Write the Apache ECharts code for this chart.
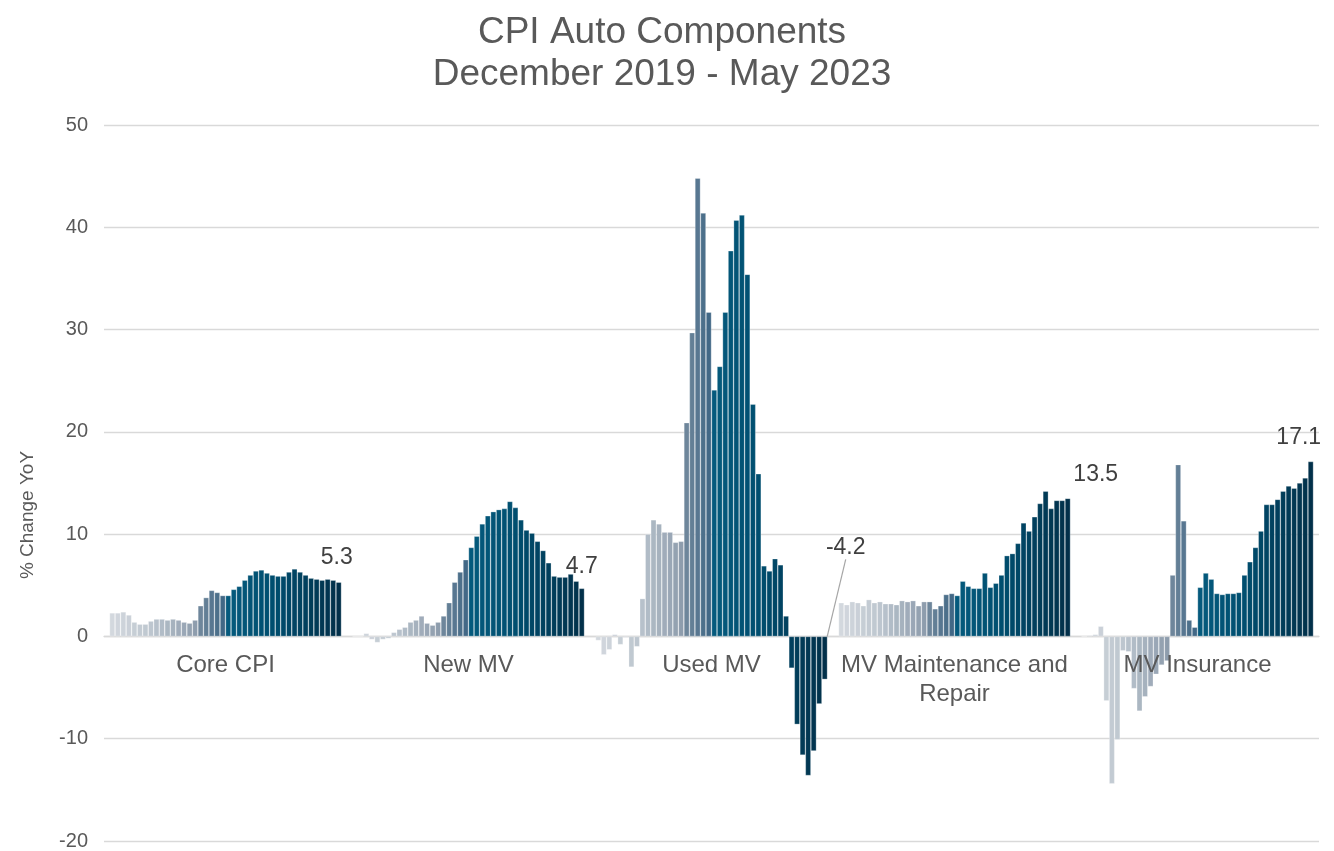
<!DOCTYPE html>
<html><head><meta charset="utf-8">
<script src="https://cdn.jsdelivr.net/npm/echarts@6/dist/echarts.min.js"></script>
<style>html,body{margin:0;padding:0;background:#fff}#c{width:1334px;height:851px}</style>
</head><body><div id="c"></div>
<script>
const groups = ['Core CPI', 'New MV', 'Used MV', 'MV Maintenance and\nRepair', 'MV Insurance'];
const months = ['Dec 2019','Jan 2020','Feb 2020','Mar 2020','Apr 2020','May 2020','Jun 2020','Jul 2020','Aug 2020','Sep 2020','Oct 2020','Nov 2020','Dec 2020','Jan 2021','Feb 2021','Mar 2021','Apr 2021','May 2021','Jun 2021','Jul 2021','Aug 2021','Sep 2021','Oct 2021','Nov 2021','Dec 2021','Jan 2022','Feb 2022','Mar 2022','Apr 2022','May 2022','Jun 2022','Jul 2022','Aug 2022','Sep 2022','Oct 2022','Nov 2022','Dec 2022','Jan 2023','Feb 2023','Mar 2023','Apr 2023','May 2023'];
const coreCPI = [2.3,2.3,2.4,2.1,1.4,1.2,1.2,1.5,1.7,1.7,1.6,1.7,1.6,1.4,1.3,1.6,3.0,3.8,4.5,4.3,4.0,4.0,4.6,4.9,5.5,6.0,6.4,6.5,6.2,6.0,5.9,5.9,6.3,6.6,6.3,6.0,5.7,5.6,5.5,5.6,5.5,5.3];
const newMV = [0.0,0.0,0.3,-0.3,-0.6,-0.3,-0.2,0.4,0.7,0.9,1.4,1.6,2.0,1.3,1.1,1.4,2.0,3.3,5.3,6.3,7.5,8.7,9.8,11.0,11.8,12.2,12.4,12.5,13.2,12.6,11.4,10.4,10.1,9.3,8.4,7.2,5.9,5.8,5.8,6.1,5.4,4.7];
const usedMV = [-0.4,-1.8,-1.3,0.2,-0.8,-0.1,-3.0,-1.0,3.7,10.0,11.4,11.0,10.2,10.2,9.2,9.3,20.9,29.7,44.8,41.4,31.7,24.1,26.4,31.7,37.7,40.7,41.2,35.4,22.7,15.9,6.9,6.4,7.6,7.0,2.0,-3.1,-8.6,-11.6,-13.6,-11.2,-6.6,-4.2];
const mvMaintenance = [3.3,3.1,3.4,3.3,3.0,3.6,3.3,3.4,3.2,3.2,3.1,3.5,3.4,3.5,3.0,3.4,3.4,2.7,3.0,4.1,4.2,4.0,5.4,4.9,4.7,4.7,6.2,4.8,5.2,6.0,7.9,8.1,9.1,11.1,10.3,11.7,13.0,14.2,12.5,13.3,13.3,13.5];
const mvInsurance = [0.0,0.1,0.2,1.0,-6.3,-14.4,-10.1,-1.4,-1.5,-5.1,-7.3,-5.9,-4.9,-3.7,-2.8,-2.4,6.0,16.8,11.3,1.6,0.9,4.8,6.2,5.6,4.2,4.1,4.2,4.2,4.3,6.0,7.3,8.7,10.3,12.9,12.9,13.4,14.2,14.7,14.5,15.0,15.5,17.1];
const yTicks = {min: -20, max: 50, interval: 10};

const seriesValues = [coreCPI, newMV, usedMV, mvMaintenance, mvInsurance];

// label placement tweaks per group (last bar of each group gets a label)
const labelShift = [
  {dx: -2, dy: -8},
  {dx: 0, dy: -5},
  {dx: 21, dy: -148, line: true},
  {dx: 28, dy: -7},
  {dx: -12, dy: -7}
];

const colorStops = [[0,'#d3d8de'],[7,'#bdc6cf'],[15,'#8e9dad'],[16,'#6e869b'],[20,'#426886'],[21,'#055a7d'],[29,'#004e6f'],[41,'#02304a']];
function hex(c){return [parseInt(c.substr(1,2),16),parseInt(c.substr(3,2),16),parseInt(c.substr(5,2),16)];}
function colorFor(i){
  for (let k = 0; k < colorStops.length - 1; k++) {
    const [a, ca] = colorStops[k], [b, cb] = colorStops[k+1];
    if (i >= a && i <= b) {
      const t = b === a ? 0 : (i - a) / (b - a);
      const A = hex(ca), B = hex(cb);
      return 'rgb(' + A.map((v, j) => Math.round(v + (B[j] - v) * t)).join(',') + ')';
    }
  }
  return colorStops[colorStops.length-1][1];
}

const cats = [];
const data = [];
const labelInfo = {};
seriesValues.forEach((vals, g) => {
  cats.push('gapA' + g); data.push('-');
  vals.forEach((v, m) => {
    cats.push(groups[g] + '|' + months[m]);
    const item = {value: v, itemStyle: {color: colorFor(m)}};
    if (m === vals.length - 1) {
      const s = labelShift[g];
      item.label = {show: true, position: v < 0 ? 'bottom' : 'top', distance: 5};
      if (s.line) item.labelLine = {show: true, lineStyle: {color: '#a6a6a6', width: 1.2}};
      labelInfo[data.length] = s;
    }
    data.push(item);
  });
  cats.push('gapB' + g); data.push('-');
});

const FONT = 'Liberation Sans, Arial, sans-serif';
const chart = echarts.init(document.getElementById('c'), null, {renderer: 'canvas'});
chart.setOption({
  animation: false,
  backgroundColor: '#ffffff',
  textStyle: {fontFamily: FONT},
  title: {
    text: 'CPI Auto Components\nDecember 2019 - May 2023',
    left: 662, textAlign: 'center', top: 12, padding: 0,
    textStyle: {fontSize: 37, fontWeight: 'normal', color: '#595959', lineHeight: 42, fontFamily: FONT}
  },
  grid: {left: 104, right: 15, top: 125, bottom: 10, containLabel: false, outerBoundsMode: 'none'},
  xAxis: [
    {
      type: 'category', data: cats, boundaryGap: true,
      axisLine: {show: true, onZero: true, lineStyle: {color: '#d9d9d9', width: 1.3}},
      axisTick: {show: false}, axisLabel: {show: false}, splitLine: {show: false}
    },
    {
      type: 'category', data: groups, position: 'bottom', z: 5, offset: 0,
      axisLine: {show: false, onZero: false},
      axisTick: {show: false},
      axisLabel: {interval: 0, margin: 14, fontSize: 24, lineHeight: 29, color: '#595959', fontFamily: FONT, hideOverlap: false},
      splitLine: {show: false}
    }
  ],
  yAxis: {
    type: 'value', min: yTicks.min, max: yTicks.max, interval: yTicks.interval,
    name: '% Change YoY', nameLocation: 'middle', nameGap: 67, nameRotate: 90,
    nameTextStyle: {fontSize: 19, color: '#595959', padding: [0, 64, 0, 0], fontFamily: FONT},
    axisLine: {show: false}, axisTick: {show: false},
    axisLabel: {fontSize: 20, color: '#595959', margin: 16, fontFamily: FONT},
    splitLine: {lineStyle: {color: '#d9d9d9', width: 1.3}}
  },
  series: [{
    type: 'bar', xAxisIndex: 0, data: data,
    barCategoryGap: '0%',
    itemStyle: {borderColor: 'rgba(255,255,255,0.45)', borderWidth: 0.6},
    label: {show: false, fontSize: 23, color: '#404040', fontFamily: FONT,
      formatter: p => Number(p.value).toFixed(1)},
    labelLayout: function (p) {
      const s = labelInfo[p.dataIndex];
      if (!s) return {};
      return {dx: s.dx, dy: s.dy};
    }
  }]
});
// move the group-label axis up to the zero line, using the value axis' own scale
const yZero = chart.convertToPixel({yAxisIndex: 0}, 0);
const yMin = chart.convertToPixel({yAxisIndex: 0}, yTicks.min);
chart.setOption({xAxis: [{}, {offset: yZero - yMin}]});
</script></body></html>
